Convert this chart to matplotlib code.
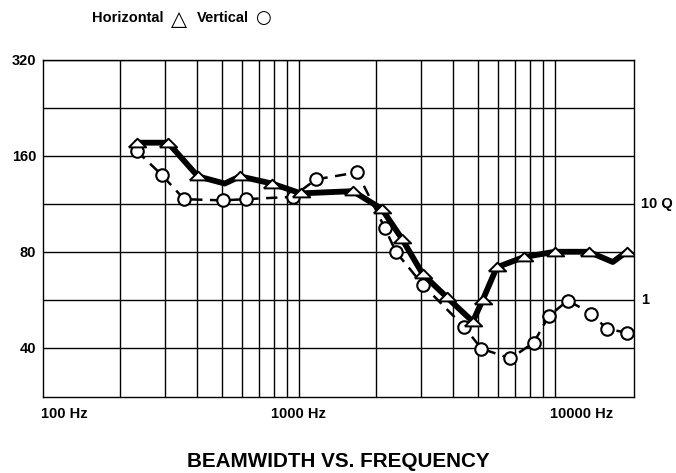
import matplotlib
matplotlib.use("Agg")
import matplotlib.pyplot as plt
from matplotlib.ticker import FixedLocator, NullLocator

plt.rcParams['font.family'] = ['Liberation Sans', 'DejaVu Sans']

# ---- data ----
h_freq = [232, 308, 403, 513, 589, 784, 1018, 1625, 2110, 2525, 3050, 3785, 4783, 5235, 5935, 7570, 10000, 13580, 16850, 19100]
h_val = [176, 176, 138, 131, 138, 131, 122, 124, 109, 88, 68, 57.6, 48.3, 56.6, 71.5, 77, 80, 80, 74.3, 80]
h_marked = [1, 1, 1, 0, 1, 1, 1, 1, 1, 1, 1, 1, 1, 1, 1, 1, 1, 1, 0, 1]

v_freq = [232, 291, 356, 503, 619, 945, 1166, 1690, 2168, 2393, 3050, 4413, 5170, 6714, 8279, 9480, 11240, 13910, 15970, 19100]
v_val = [166, 139.5, 117, 116, 117, 119, 135, 142, 95, 80, 63, 46.6, 39.7, 37, 41.5, 50.3, 56.2, 51.2, 45.8, 44.6]

y_ticks = [40, 80, 160, 320]
y_minor = [56.6, 113, 226]
x_grid = [200, 300, 400, 500, 600, 700, 800, 900, 1000,
          2000, 3000, 4000, 5000, 6000, 7000, 8000, 9000, 10000]
x_labels = ["100 Hz", "1000 Hz", "10000 Hz"]
x_label_pos = [121, 1000, 12750]
q_labels = ["10 Q", "1"]
q_pos = [113, 56.6]

W, H = 676, 473
fig = plt.figure(figsize=(W / 100, H / 100), dpi=100)
ax = fig.add_axes([43 / W, 1 - 397 / H, (634 - 43) / W, (397 - 60) / H])
ax.set_xscale('log')
ax.set_yscale('log', base=2)
ax.set_xlim(100, 20400)
ax.set_ylim(28.0, 320)

for s in ax.spines.values():
    s.set_color('black')
    s.set_linewidth(1.0)

# grid
for f in x_grid:
    ax.axvline(f, color='black', lw=1.0, zorder=1)
for v in y_ticks + y_minor:
    ax.axhline(v, color='black', lw=1.0, zorder=1)

ax.xaxis.set_major_locator(NullLocator())
ax.xaxis.set_minor_locator(NullLocator())
ax.yaxis.set_major_locator(FixedLocator(y_ticks))
ax.yaxis.set_minor_locator(NullLocator())
ax.set_yticklabels([str(t) for t in y_ticks], fontsize=10.5, fontweight='bold')
ax.tick_params(axis='y', length=0, pad=5)

# x labels
trans = ax.get_xaxis_transform()
for lab, pos in zip(x_labels, x_label_pos):
    ax.text(pos, -0.05, lab, transform=trans, ha='center', va='center',
            fontsize=10.5, fontweight='bold', clip_on=False)

# right Q labels
ytrans = ax.get_yaxis_transform()
for lab, pos in zip(q_labels, q_pos):
    ax.text(1.012, pos, lab, transform=ytrans, ha='left', va='center',
            fontsize=10.5, fontweight='bold', clip_on=False)

# vertical series (dashed with circles)
ax.plot(v_freq, v_val, color='black', lw=1.8, linestyle=(0, (4.5, 3)), zorder=3)
ax.plot(v_freq, v_val, linestyle='none', marker='o', markersize=9,
        markerfacecolor='white', markeredgecolor='black', markeredgewidth=1.5, zorder=4)

# horizontal series (thick line with flat triangles)
tri = [(-1, -0.45), (1, -0.45), (0, 0.55), (-1, -0.45)]
ax.plot(h_freq, h_val, color='black', lw=4.2, solid_joinstyle='round',
        solid_capstyle='round', zorder=5)
hf = [f for f, m in zip(h_freq, h_marked) if m]
hv = [v for v, m in zip(h_val, h_marked) if m]
ax.plot(hf, hv, linestyle='none', marker=tri, markersize=12.5,
        markerfacecolor='white', markeredgecolor='black', markeredgewidth=1.4, zorder=6)

# legend text (words and symbols)
ly = 1 - 18 / H
fig.text(92 / W, ly, "Horizontal", ha='left', va='center', fontsize=10.5, fontweight='bold')
fig.text(171 / W, ly - 1 / H, "\u25B3", ha='left', va='center', fontsize=15,
         family='DejaVu Sans')
fig.text(197 / W, ly, "Vertical", ha='left', va='center', fontsize=10.5, fontweight='bold')
fig.text(255 / W, ly, "\u25CB", ha='left', va='center', fontsize=13,
         family='DejaVu Sans')

# title
fig.text(338 / W, 1 - 461 / H, "BEAMWIDTH VS. FREQUENCY", ha='center', va='center',
         fontsize=14.9, fontweight='bold')

fig.savefig("out.png", dpi=100)
